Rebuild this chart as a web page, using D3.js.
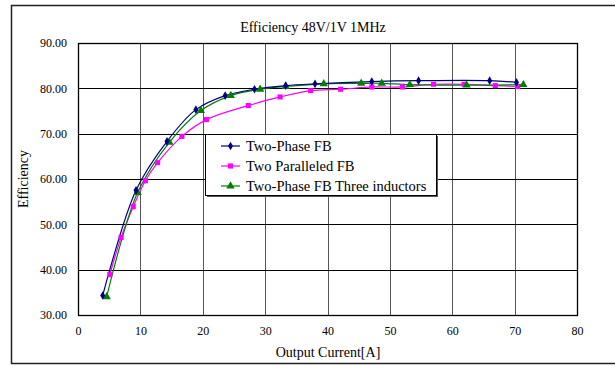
<!DOCTYPE html>
<html>
<head>
<meta charset="utf-8">
<script src="https://cdn.jsdelivr.net/npm/d3@7"></script>
<style>
  body { margin: 0; background: #fff; }
  svg text { font-family: "Times New Roman", "Liberation Serif", serif; fill: #000; }
</style>
</head>
<body>
<script>
// data
const seriesNames = ["Two-Phase FB", "Two Paralleled FB", "Two-Phase FB Three inductors"];

const twoPhaseX = [3.96, 9.3, 14.27, 18.9, 23.6, 28.3, 33.3, 38.0, 47.1, 54.6, 66.0, 70.3];
const twoPhaseY = [34.3, 57.5, 68.3, 75.3, 78.4, 79.8, 80.6, 81.0, 81.5, 81.7, 81.7, 81.3];

const paralleledX = [5.1, 6.9, 8.86, 10.8, 12.76, 16.66, 20.6, 27.3, 32.4, 37.3, 42.1, 47.1, 52.0, 57.0, 61.9, 66.9, 70.5];
const paralleledY = [38.9, 47.1, 53.9, 59.6, 63.6, 69.4, 73.1, 76.2, 78.1, 79.5, 79.8, 80.3, 80.3, 80.9, 80.9, 80.6, 80.4];

const threeIndX = [4.6, 9.55, 14.65, 19.7, 24.5, 29.2, 33.3, 39.4, 45.4, 48.7, 53.2, 62.3, 71.4];
const threeIndY = [34.0, 57.0, 68.1, 75.1, 78.4, 79.8, 80.4, 81.0, 81.1, 81.1, 80.8, 80.7, 80.8];

const xTicks = [0, 10, 20, 30, 40, 50, 60, 70, 80];
const yTicks = [30, 40, 50, 60, 70, 80, 90];

const colors = ["#000080", "#ff00ff", "#008000"];
const symbols = [d3.symbolDiamond, d3.symbolSquare, d3.symbolTriangle];
const symSizes = [22, 26, 30];

const W = 615, H = 366;
const plot = {left: 78, top: 43, right: 577, bottom: 315};
const serif = "'Times New Roman', 'Liberation Serif', serif";

const svg = d3.select("body").append("svg")
    .attr("width", W)
    .attr("height", H);

// outer chart frame (right edge runs off the picture)
svg.append("rect")
    .attr("x", 11.5).attr("y", 5.5)
    .attr("width", 606).attr("height", 358)
    .attr("fill", "#fff")
    .attr("stroke", "#222")
    .attr("stroke-width", 1.5);

let x = d3.scaleLinear().domain([0, 80]).range([plot.left, plot.right]);
let y = d3.scaleLinear().domain([30, 90]).range([plot.bottom, plot.top]);

// gridlines
svg.append("g")
    .selectAll("line")
    .data(xTicks.slice(1, -1))
    .join("line")
    .attr("x1", d => Math.round(x(d)) + 0.5)
    .attr("x2", d => Math.round(x(d)) + 0.5)
    .attr("y1", plot.top)
    .attr("y2", plot.bottom)
    .attr("stroke", "#555")
    .attr("stroke-width", 1);

svg.append("g")
    .selectAll("line")
    .data(yTicks.slice(1, -1))
    .join("line")
    .attr("x1", plot.left)
    .attr("x2", plot.right)
    .attr("y1", d => Math.round(y(d)) + 0.5)
    .attr("y2", d => Math.round(y(d)) + 0.5)
    .attr("stroke", "#000")
    .attr("stroke-width", 1);

svg.append("rect")
    .attr("x", plot.left + 0.5).attr("y", plot.top + 0.5)
    .attr("width", plot.right - plot.left).attr("height", plot.bottom - plot.top)
    .attr("fill", "none")
    .attr("stroke", "#000")
    .attr("stroke-width", 1.3);

// axes (labels only, Excel style)
const xAxis = svg.append("g")
    .attr("transform", `translate(0,${plot.bottom})`)
    .call(d3.axisBottom(x).tickValues(xTicks).tickSize(0).tickPadding(11));
xAxis.select(".domain").remove();
xAxis.attr("font-family", serif).attr("font-size", 12);

const yAxis = svg.append("g")
    .attr("transform", `translate(${plot.left},0)`)
    .call(d3.axisLeft(y).tickValues(yTicks).tickSize(0).tickPadding(11)
        .tickFormat(d3.format(".2f")));
yAxis.select(".domain").remove();
yAxis.attr("font-family", serif).attr("font-size", 12);

// titles
svg.append("text")
    .attr("x", 313).attr("y", 32)
    .attr("text-anchor", "middle")
    .style("font-size", "14px")
    .text("Efficiency 48V/1V 1MHz");

svg.append("text")
    .attr("x", 328).attr("y", 357)
    .attr("text-anchor", "middle")
    .style("font-size", "14px")
    .text("Output Current[A]");

svg.append("text")
    .attr("transform", `translate(28,${(plot.top + plot.bottom) / 2}) rotate(-90)`)
    .attr("text-anchor", "middle")
    .style("font-size", "14px")
    .text("Efficiency");

// series
const series = [
    d3.zip(twoPhaseX, twoPhaseY),
    d3.zip(paralleledX, paralleledY),
    d3.zip(threeIndX, threeIndY)
];

let line = d3.line()
    .x(d => x(d[0]))
    .y(d => y(d[1]))
    .curve(d3.curveCatmullRom.alpha(0.5));

const drawOrder = [1, 2, 0];
drawOrder.forEach(i => {
    svg.append("path")
        .datum(series[i])
        .attr("fill", "none")
        .attr("stroke", colors[i])
        .attr("stroke-width", 1.2)
        .attr("d", line);
});
drawOrder.forEach(i => {
    svg.append("g")
        .selectAll("path")
        .data(series[i])
        .join("path")
        .attr("transform", d => `translate(${x(d[0])},${y(d[1])})`)
        .attr("d", d3.symbol().type(symbols[i]).size(symSizes[i]))
        .attr("fill", colors[i]);
});

// legend
const lg = {x: 205, y: 134, w: 231, h: 61};
svg.append("rect")
    .attr("x", lg.x + 2).attr("y", lg.y + 2)
    .attr("width", lg.w).attr("height", lg.h)
    .attr("fill", "#555");
svg.append("rect")
    .attr("x", lg.x + 0.5).attr("y", lg.y + 0.5)
    .attr("width", lg.w).attr("height", lg.h)
    .attr("fill", "#fff")
    .attr("stroke", "#000")
    .attr("stroke-width", 1);

seriesNames.forEach((name, i) => {
    const ry = lg.y + 12 + i * 20;
    const item = svg.append("g");
    item.append("line")
        .attr("x1", lg.x + 16).attr("x2", lg.x + 35)
        .attr("y1", ry).attr("y2", ry)
        .attr("stroke", colors[i])
        .attr("stroke-width", 1.2);
    item.append("path")
        .attr("transform", `translate(${lg.x + 25.5},${ry})`)
        .attr("d", d3.symbol().type(symbols[i]).size(symSizes[i]))
        .attr("fill", colors[i]);
    item.append("text")
        .attr("x", lg.x + 41).attr("y", ry)
        .attr("dy", "0.35em")
        .style("font-size", "14.5px")
        .text(name);
});
</script>
</body>
</html>
